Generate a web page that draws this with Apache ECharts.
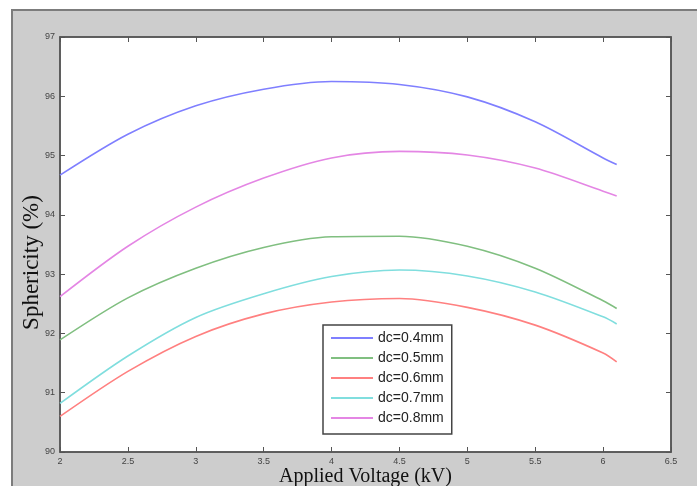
<!DOCTYPE html>
<html>
<head>
<meta charset="utf-8">
<script src="https://cdn.jsdelivr.net/npm/echarts@6/dist/echarts.min.js"></script>
<style>
  body { margin: 0; background: #fff; }
  #frame { position: absolute; left: 11px; top: 9px; width: 700px; height: 490px;
           background: #cdcdcd; border: 2px solid #7c7c7c; }
  #chart { position: absolute; left: 0; top: 0; width: 697px; height: 486px; }
</style>
</head>
<body>
<div id="frame"></div>
<div id="chart"></div>
<script>
// applied voltage (kV)
var voltage = [2, 2.5, 3, 3.5, 4, 4.5, 5, 5.5, 6, 6.1];

// sphericity (%) per nozzle diameter
var dc04 = [94.67, 95.36, 95.84, 96.12, 96.25, 96.20, 95.99, 95.57, 94.96, 94.85];
var dc05 = [91.89, 92.60, 93.10, 93.45, 93.63, 93.64, 93.47, 93.10, 92.55, 92.42];
var dc06 = [90.60, 91.36, 91.95, 92.33, 92.53, 92.59, 92.44, 92.14, 91.67, 91.52];
var dc07 = [90.82, 91.62, 92.27, 92.67, 92.96, 93.07, 92.97, 92.70, 92.28, 92.16];
var dc08 = [92.62, 93.47, 94.13, 94.62, 94.96, 95.07, 95.01, 94.79, 94.40, 94.32];

var seriesNames = ['dc=0.4mm', 'dc=0.5mm', 'dc=0.6mm', 'dc=0.7mm', 'dc=0.8mm'];
var seriesColors = ['#7f7fff', '#80bf80', '#ff8080', '#80dede', '#e486e4'];

function pairs(ys) {
    var out = [];
    for (var i = 0; i < voltage.length; i++) {
        out.push([voltage[i], ys[i]]);
    }
    return out;
}

var allValues = [dc04, dc05, dc06, dc07, dc08];
var series = [];
for (var i = 0; i < allValues.length; i++) {
    series.push({
        name: seriesNames[i],
        type: 'line',
        data: pairs(allValues[i]),
        smooth: 0.3,
        showSymbol: false,
        lineStyle: { color: seriesColors[i], width: 1.6 },
        itemStyle: { color: seriesColors[i] }
    });
}

var tickStyle = { inside: true, length: 5, lineStyle: { color: '#555', width: 1 } };
var axisLine = { show: true, lineStyle: { color: '#555', width: 1.5 } };

var myChart = echarts.init(document.getElementById('chart'));
var option = {
    animation: false,
    grid: {
        left: 60, top: 37, right: 26, bottom: 34,
        outerBoundsMode: 'none',
        show: true, backgroundColor: '#fff', borderColor: '#555', borderWidth: 1.5
    },
    legend: {
        orient: 'vertical',
        left: 323, top: 325,
        data: seriesNames,
        icon: 'rect',
        itemWidth: 42, itemHeight: 2,
        itemGap: 4,
        padding: [5, 8, 8, 8],
        backgroundColor: '#fff',
        borderColor: '#444', borderWidth: 1.5,
        textStyle: { fontFamily: 'Liberation Sans', fontSize: 14, lineHeight: 16, color: '#222' }
    },
    xAxis: [{
        type: 'value', min: 2, max: 6.5, interval: 0.5,
        name: 'Applied Voltage (kV)',
        nameLocation: 'middle', nameGap: 15, nameMoveOverlap: false,
        nameTextStyle: { fontFamily: 'Liberation Serif', fontSize: 20, color: '#111' },
        axisLine: axisLine, axisTick: tickStyle,
        axisLabel: { fontFamily: 'Liberation Sans', fontSize: 9, color: '#444', margin: 5 },
        splitLine: { show: false }
    }, {
        type: 'value', min: 2, max: 6.5, interval: 0.5, position: 'top',
        axisLine: axisLine, axisTick: tickStyle,
        axisLabel: { show: false }, splitLine: { show: false }
    }],
    yAxis: [{
        type: 'value', min: 90, max: 97, interval: 1,
        name: 'Sphericity (%)',
        nameLocation: 'middle', nameGap: 17, nameMoveOverlap: false,
        nameTextStyle: { fontFamily: 'Liberation Serif', fontSize: 23, color: '#111', padding: [0, 36, 0, 0] },
        axisLine: axisLine, axisTick: tickStyle,
        axisLabel: { fontFamily: 'Liberation Sans', fontSize: 9, color: '#444', margin: 5 },
        splitLine: { show: false }
    }, {
        type: 'value', min: 90, max: 97, interval: 1, position: 'right',
        axisLine: axisLine, axisTick: tickStyle,
        axisLabel: { show: false }, splitLine: { show: false }
    }],
    series: series
};
option && myChart.setOption(option);
</script>
</body>
</html>
